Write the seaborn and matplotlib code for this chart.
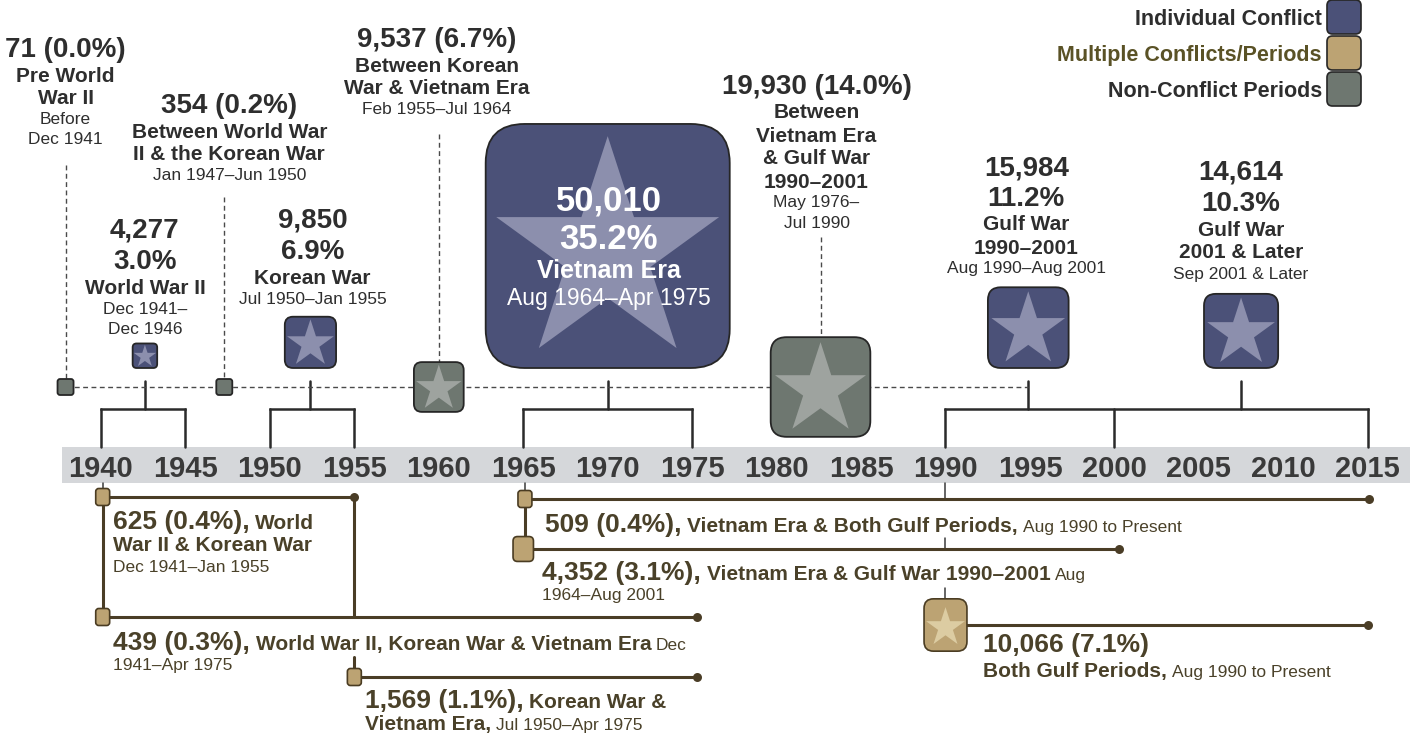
import matplotlib
matplotlib.use("Agg")
import numpy as np
import pandas as pd
import matplotlib.pyplot as plt
import seaborn as sns
from matplotlib.patches import BoxStyle, Rectangle

# ---------------- data ----------------
top_names = ["Pre World\nWar II", "World War II", "Between World War\nII & the Korean War",
             "Korean War", "Between Korean\nWar & Vietnam Era", "Vietnam Era",
             "Between\nVietnam Era\n& Gulf War\n1990–2001", "Gulf War\n1990–2001",
             "Gulf War\n2001 & Later"]
top_dates = ["Before\nDec 1941", "Dec 1941–\nDec 1946", "Jan 1947–Jun 1950",
             "Jul 1950–Jan 1955", "Feb 1955–Jul 1964", "Aug 1964–Apr 1975",
             "May 1976–\nJul 1990", "Aug 1990–Aug 2001", "Sep 2001 & Later"]
top_counts = [71, 4277, 354, 9850, 9537, 50010, 19930, 15984, 14614]
top_pcts = [0.0, 3.0, 0.2, 6.9, 6.7, 35.2, 14.0, 11.2, 10.3]
top_kinds = ["Non-Conflict Periods", "Individual Conflict", "Non-Conflict Periods",
             "Individual Conflict", "Non-Conflict Periods", "Individual Conflict",
             "Non-Conflict Periods", "Individual Conflict", "Individual Conflict"]
top_years = [1937.9, 1942.6, 1947.3, 1952.4, 1960.0, 1970.0, 1982.6, 1994.9, 2007.5]

multi_names = ["World War II & Korean War", "World War II, Korean War & Vietnam Era",
               "Korean War & Vietnam Era", "Vietnam Era & Both Gulf Periods",
               "Vietnam Era & Gulf War 1990–2001", "Both Gulf Periods"]
multi_dates = ["Dec 1941–Jan 1955", "Dec 1941–Apr 1975", "Jul 1950–Apr 1975",
               "Aug 1990 to Present", "Aug 1964–Aug 2001", "Aug 1990 to Present"]
multi_counts = [625, 439, 1569, 509, 4352, 10066]
multi_pcts = [0.4, 0.3, 1.1, 0.4, 3.1, 7.1]
multi_start = [1940.1, 1940.1, 1955.0, 1965.1, 1965.0, 1990.0]
multi_end = [1955.0, 1975.3, 1975.3, 2015.1, 2000.3, 2015.0]

axis_years = list(range(1940, 2016, 5))
bracket_years = [(1940, 1945), (1950, 1955), (1965, 1975), (1990, 2000, 2015)]
bracket_of_top = {1: 0, 3: 1, 5: 2, 7: 3, 8: 3}
legend_labels = ["Individual Conflict", "Multiple Conflicts/Periods", "Non-Conflict Periods"]

# ---------------- style ----------------
sns.set_theme(style="white")
plt.rcParams["font.family"] = ["Liberation Sans", "DejaVu Sans"]

FILL = {"Individual Conflict": "#4b5178", "Multiple Conflicts/Periods": "#bca373",
        "Non-Conflict Periods": "#6e7770"}
STAR = {"Individual Conflict": "#8c8fad", "Multiple Conflicts/Periods": "#dccca2",
        "Non-Conflict Periods": "#9ea39f"}
EDGE = "#262626"
TAN_EDGE = "#4a3c22"
BROWN = "#4a3d26"
TXT = "#2e2e2e"
BTXT = "#4a4129"
LEG_TXT = ["#2e2e2e", "#5a5226", "#2e2e2e"]

PXY = 16.89                 # pixels per year
X0 = 1940 - 101 / PXY
PT = 0.72                   # points per pixel at 100 dpi


def X(px):
    return X0 + px / PXY


def side_px(c, lo=16.0):
    return max(lo, 4 + 0.0048 * c)


def rounded_marker(w, h, r):
    return BoxStyle.Round(pad=0, rounding_size=r)(-w / 2, -h / 2, w, h, 1.0)


SQ = rounded_marker(1.0, 1.0, 0.16)
TALL = rounded_marker(0.82, 1.0, 0.18)

fig = plt.figure(figsize=(14.24, 7.39), dpi=100)
ax = fig.add_axes([0, 0, 1, 1])
ax.set_axis_off()

# ---------------- grey year band ----------------
ax.add_patch(Rectangle((X(62), 447), X(1410) - X(62), 36, facecolor="#d5d7da",
                       edgecolor="none", zorder=1))
for yv in axis_years:
    ax.text(yv, 466, str(yv), ha="center", va="center_baseline", fontsize=21,
            fontweight="bold", color="#3a3a3a", zorder=2)

# ---------------- top section ----------------
top = pd.DataFrame({"x": top_years, "count": top_counts, "kind": top_kinds})
top["side"] = top["count"].apply(side_px)
top["y"] = np.where(top["kind"] == "Individual Conflict", 368 - top["side"] / 2, 387.0)
top["s"] = (top["side"] * PT) ** 2

# brackets
BR_Y, BAND_TOP = 409, 447
for br in bracket_years:
    ax.plot([br[0], br[-1]], [BR_Y, BR_Y], color="#2b2b2b", lw=1.8, zorder=2,
            solid_capstyle="projecting")
    for bx in br:
        ax.plot([bx, bx], [BR_Y, BAND_TOP], color="#2b2b2b", lw=1.8, zorder=2)
for i in bracket_of_top:
    ax.plot([top_years[i], top_years[i]], [381, BR_Y], color="#2b2b2b", lw=1.8, zorder=2)

# dashed baseline through the non-conflict periods
ax.plot([top_years[0], top_years[7]], [387, 387], color="#4a4a4a", lw=1.0,
        dashes=(3.5, 2.5), zorder=2)
dash_top = {0: 165, 2: 197, 4: 134, 6: 237}
for i, ytop in dash_top.items():
    ax.plot([top_years[i], top_years[i]], [ytop, top["y"][i] - top["side"][i] / 2],
            color="#4a4a4a", lw=1.0, dashes=(3.5, 2.5), zorder=2)

for kind, sub in top.groupby("kind"):
    sns.scatterplot(data=sub, x="x", y="y", s=sub["s"].values, marker=SQ,
                    color=FILL[kind], edgecolor=EDGE, linewidth=1.3, zorder=3,
                    ax=ax, legend=False)
    st = sub[sub["side"] >= 24]
    if len(st):
        sns.scatterplot(x=st["x"].values, y=(st["y"] + 0.03 * st["side"]).values,
                        s=((0.96 * st["side"] * PT) ** 2).values, marker="*",
                        color=STAR[kind], linewidth=0, zorder=4, ax=ax, legend=False)

STY = {
    "big": dict(size=20, weight="bold", h=31),
    "title": dict(size=15, weight="bold", h=23),
    "date": dict(size=12.5, weight="normal", h=20),
    "vbig": dict(size=25, weight="bold", h=38),
    "vtitle": dict(size=18, weight="bold", h=27),
    "vdate": dict(size=16.5, weight="normal", h=29),
}


def stack(xc, y0, lines, color):
    y, prev_h = y0, None
    for text, st in lines:
        s = STY[st]
        if prev_h is not None:
            y += (prev_h + s["h"]) / 2
        ax.text(xc, y, text, ha="center", va="center_baseline", fontsize=s["size"],
                fontweight=s["weight"], color=color, zorder=6)
        prev_h = s["h"]


label_y0 = [47, 228, 103, 218, 37, 198, 84, 165, 170]
label_dx = [0, 0, 5, 2, -2, 1, -4, -2, 0]
for i in range(len(top_counts)):
    c, p = top_counts[i], top_pcts[i]
    big, tit, dat = "big", "title", "date"
    if i == 5:
        big, tit, dat = "vbig", "vtitle", "vdate"
    if top_kinds[i] == "Individual Conflict":
        lines = [(f"{c:,}", big), (f"{p:.1f}%", big)]
    else:
        lines = [(f"{c:,} ({p:.1f}%)", big)]
    lines += [(t, tit) for t in top_names[i].split("\n")]
    lines += [(t, dat) for t in top_dates[i].split("\n")]
    col = "white" if i == 5 else TXT
    stack(top_years[i] + label_dx[i] / PXY, label_y0[i], lines, col)

# ---------------- bottom section (multiple conflicts) ----------------
multi_row = [497, 617, 677, 499, 549, 625]
LW_B = 2.2
# connectors
ax.plot([multi_start[0]] * 2, [multi_row[0], multi_row[1]], color=BROWN, lw=LW_B, zorder=2)
ax.plot([multi_end[0]] * 2, [multi_row[0], multi_row[1]], color=BROWN, lw=LW_B, zorder=2)
ax.plot([multi_end[0]] * 2, [657, multi_row[2]], color=BROWN, lw=LW_B, zorder=2)
ax.plot([multi_start[3]] * 2, [multi_row[3], multi_row[4]], color=BROWN, lw=LW_B, zorder=2)
for xv in (1940.1, 1965.1):
    ax.plot([xv, xv], [483, 497], color="#3a3a3a", lw=1.1, zorder=2)
for a, b in ((483, 499), (538, 549), (588, 600)):
    ax.plot([1990.0, 1990.0], [a, b], color="#3a3a3a", lw=1.1, zorder=2)

multi = pd.DataFrame({"x": multi_start, "xe": multi_end, "y": multi_row,
                      "count": multi_counts})
multi["side"] = multi["count"].apply(lambda c: side_px(c, 17.0))
multi["s"] = (multi["side"] * PT) ** 2
for i, r in multi.iterrows():
    ax.plot([r["x"], r["xe"]], [r["y"], r["y"]], color=BROWN, lw=LW_B, zorder=2)
sns.scatterplot(x=multi["xe"].values, y=multi["y"].values, s=(9 * PT) ** 2, marker="o",
                color=BROWN, linewidth=0, zorder=3, ax=ax, legend=False)
sns.scatterplot(data=multi, x="x", y="y", s=multi["s"].values, marker=TALL,
                color=FILL["Multiple Conflicts/Periods"], edgecolor=TAN_EDGE,
                linewidth=1.2, zorder=3, ax=ax, legend=False)
ms = multi[multi["side"] >= 40]
sns.scatterplot(x=ms["x"].values, y=(ms["y"] + 0.03 * ms["side"]).values,
                s=((0.78 * ms["side"] * PT) ** 2).values, marker="*",
                color=STAR["Multiple Conflicts/Periods"], linewidth=0, zorder=4,
                ax=ax, legend=False)

BSTY = {"B": (19, "bold"), "T": (15, "bold"), "D": (12.5, "normal")}


def run_line(x_px, yc, runs):
    cap = max(BSTY[st][0] for _, st in runs) / PT * 0.716
    base = yc + cap / 2
    prev = None
    for text, st in runs:
        fs, fw = BSTY[st]
        lead = text.startswith(" ")
        text = text.strip()
        kw = dict(fontsize=fs, fontweight=fw, color=BTXT, va="baseline", ha="left",
                  zorder=6)
        if prev is None:
            prev = ax.text(X(x_px), base, text, **kw)
        else:
            gap = 0.278 * fs if lead else 0
            prev = ax.annotate(text, xy=(1, base), xycoords=(prev, "data"),
                               xytext=(gap, 0), textcoords="offset points", **kw)


def words(s, a, b=None):
    return " ".join(s.split()[a:b])


num = [f"{c:,} ({p:.1f}%)" for c, p in zip(multi_counts, multi_pcts)]
n, d = multi_names, multi_dates
bottom_text = [
    (113, [520, 544, 566], [[(num[0] + ",", "B"), (" " + words(n[0], 0, 1), "T")],
                            [(words(n[0], 1), "T")], [(d[0], "D")]]),
    (113, [641, 664], [[(num[1] + ",", "B"), (" " + n[1], "T"), (" " + words(d[1], 0, 1), "D")],
                       [(words(d[1], 1), "D")]]),
    (365, [699, 723], [[(num[2] + ",", "B"), (" " + words(n[2], 0, 3), "T")],
                       [(words(n[2], 3) + ",", "T"), (" " + d[2], "D")]]),
    (545, [523], [[(num[3] + ",", "B"), (" " + n[3] + ",", "T"), (" " + d[3], "D")]]),
    (542, [571, 594], [[(num[4] + ",", "B"), (" " + n[4], "T"), (" " + words(d[4], 0, 1), "D")],
                       [(words(d[4], 1), "D")]]),
    (983, [643, 670], [[(num[5], "B")], [(n[5] + ",", "T"), (" " + d[5], "D")]]),
]
for x_px, ys, lines in bottom_text:
    for yc, runs in zip(ys, lines):
        run_line(x_px, yc, runs)

# ---------------- legend ----------------
leg_y = [17, 53, 89]
sns.scatterplot(x=[X(1344)] * 3, y=leg_y, s=(34 * PT) ** 2, marker=SQ,
                hue=legend_labels, palette=FILL, edgecolor=EDGE, linewidth=1.2,
                zorder=3, ax=ax, legend=False)
for lab, yv, col in zip(legend_labels, leg_y, LEG_TXT):
    ax.text(X(1322), yv, lab, ha="right", va="center_baseline", fontsize=15.5,
            fontweight="bold", color=col, zorder=6)

ax.set_xlim(X(0), X(1424))
ax.set_ylim(739, 0)
ax.set_axis_off()
fig.savefig("out.png", dpi=100, facecolor="white")
